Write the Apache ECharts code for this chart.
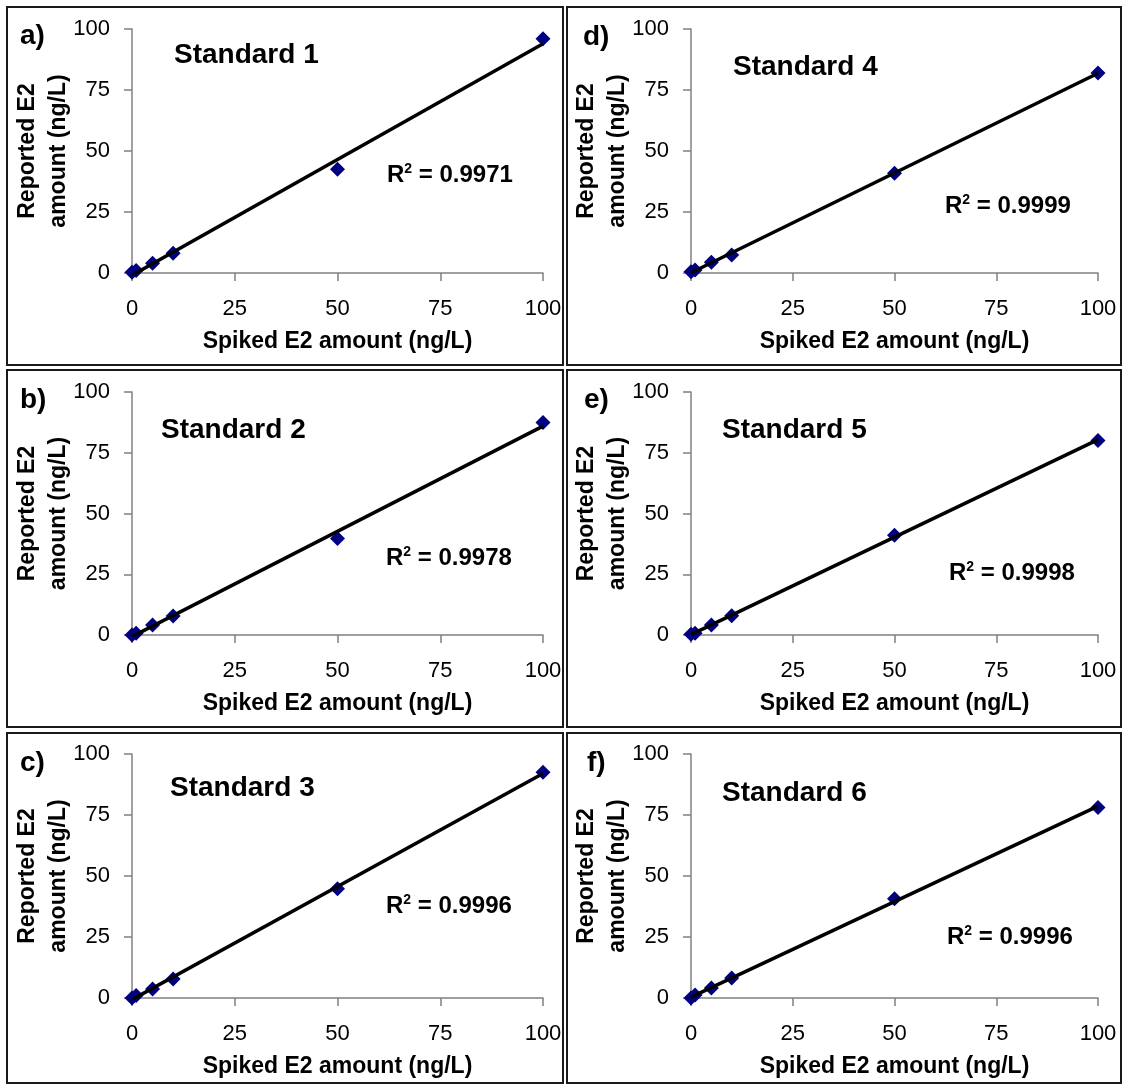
<!DOCTYPE html>
<html>
<head>
<meta charset="utf-8">
<script src="https://cdn.jsdelivr.net/npm/echarts@6/dist/echarts.min.js"></script>
<style>
  html, body { margin: 0; padding: 0; background: #fff; }
  #chart { width: 1125px; height: 1085px; }
</style>
</head>
<body>
<div id="chart"></div>
<script>
// data
const spikedAmount = [0, 1, 5, 10, 50, 100];
const reportedStd1 = [0.3, 1.0, 4.0, 8.1, 42.5, 96.0];
const reportedStd2 = [0.0, 0.7, 4.1, 7.8, 39.7, 87.4];
const reportedStd3 = [0.0, 1.0, 3.7, 7.8, 44.8, 92.5];
const reportedStd4 = [0.5, 1.2, 4.4, 7.4, 40.9, 82.0];
const reportedStd5 = [0.3, 0.7, 4.1, 7.9, 41.1, 80.0];
const reportedStd6 = [0.0, 1.2, 4.1, 8.2, 40.7, 78.1];
const panelLetters = ['a)', 'b)', 'c)', 'd)', 'e)', 'f)'];
const standardNames = ['Standard 1', 'Standard 2', 'Standard 3', 'Standard 4', 'Standard 5', 'Standard 6'];
const r2Values = ['0.9971', '0.9978', '0.9996', '0.9999', '0.9998', '0.9996'];
const axisTicks = [0, 25, 50, 75, 100];
const xAxisTitle = 'Spiked E2 amount (ng/L)';
const yAxisTitle = 'Reported E2\namount (ng/L)';

const reported = [reportedStd1, reportedStd2, reportedStd3, reportedStd4, reportedStd5, reportedStd6];

const FONT = '"Liberation Sans", Arial, sans-serif';

// panel layout: grid [x0,y0,x1,y1], frame, text anchors
const panels = [
    { grid: [132, 29, 543, 273],  box: [7, 7, 563, 365],      letter: [20, 36],   title: [174, 55],  r2: [387, 175] },
    { grid: [132, 392, 543, 635], box: [7, 370, 563, 727],    letter: [20, 400],  title: [161, 430], r2: [386, 558] },
    { grid: [132, 754, 543, 998], box: [7, 733, 563, 1083],   letter: [20, 763],  title: [170, 788], r2: [386, 906] },
    { grid: [691, 29, 1098, 273], box: [567, 7, 1121, 365],   letter: [583, 37],  title: [733, 67],  r2: [945, 206] },
    { grid: [691, 392, 1098, 635], box: [567, 370, 1121, 727], letter: [584, 400], title: [722, 430], r2: [949, 573] },
    { grid: [691, 754, 1098, 998], box: [567, 733, 1121, 1083], letter: [587, 763], title: [722, 793], r2: [947, 937] }
];

// least squares trendline, like the Excel one
function linearFit(xs, ys) {
    const n = xs.length;
    let sx = 0, sy = 0, sxx = 0, sxy = 0;
    for (let i = 0; i < n; i++) {
        sx += xs[i]; sy += ys[i];
        sxx += xs[i] * xs[i]; sxy += xs[i] * ys[i];
    }
    const slope = (n * sxy - sx * sy) / (n * sxx - sx * sx);
    const intercept = (sy - slope * sx) / n;
    return { slope, intercept };
}

const axisMin = axisTicks[0];
const axisMax = axisTicks[axisTicks.length - 1];
const axisStep = axisTicks[1] - axisTicks[0];

const axisLineStyle = { color: '#808080', width: 1.5 };

const grids = [], xAxes = [], yAxes = [], series = [], graphics = [];

panels.forEach((p, i) => {
    const [x0, y0, x1, y1] = p.grid;
    grids.push({ left: x0, top: y0, width: x1 - x0, height: y1 - y0, containLabel: false, outerBoundsMode: 'none' });

    xAxes.push({
        gridIndex: i, type: 'value', min: axisMin, max: axisMax, interval: axisStep,
        name: xAxisTitle, nameLocation: 'middle', nameGap: 57,
        nameTextStyle: { fontFamily: FONT, fontSize: 23, fontWeight: 'bold', color: '#000' },
        axisLine: { lineStyle: axisLineStyle },
        axisTick: { length: 8, lineStyle: axisLineStyle },
        axisLabel: { margin: 25, fontFamily: FONT, fontSize: 22, color: '#000' },
        splitLine: { show: false }
    });
    yAxes.push({
        gridIndex: i, type: 'value', min: axisMin, max: axisMax, interval: axisStep,
        name: yAxisTitle, nameLocation: 'middle', nameGap: 58, nameRotate: 90, nameMoveOverlap: false,
        nameTextStyle: { fontFamily: FONT, fontSize: 23, fontWeight: 'bold', color: '#000', lineHeight: 31 },
        axisLine: { show: true, lineStyle: axisLineStyle },
        axisTick: { show: true, length: 8, lineStyle: axisLineStyle },
        axisLabel: { margin: 22, fontFamily: FONT, fontSize: 22, color: '#000' },
        splitLine: { show: false }
    });

    const ys = reported[i];
    series.push({
        type: 'scatter', xAxisIndex: i, yAxisIndex: i,
        symbol: 'diamond', symbolSize: 15,
        itemStyle: { color: '#000080', opacity: 1 },
        data: spikedAmount.map((x, k) => [x, ys[k]]),
        z: 2
    });
    const fit = linearFit(spikedAmount, ys);
    const xs0 = Math.min(...spikedAmount), xs1 = Math.max(...spikedAmount);
    series.push({
        type: 'line', xAxisIndex: i, yAxisIndex: i,
        showSymbol: false, symbol: 'none',
        lineStyle: { color: '#000', width: 3.5 },
        data: [[xs0, fit.intercept + fit.slope * xs0], [xs1, fit.intercept + fit.slope * xs1]],
        z: 3, silent: true
    });

    const [bx0, by0, bx1, by1] = p.box;
    graphics.push({
        type: 'rect', z: 10,
        shape: { x: bx0, y: by0, width: bx1 - bx0, height: by1 - by0 },
        style: { fill: 'none', stroke: '#1a1a1a', lineWidth: 2 }
    });
    graphics.push({
        type: 'text', x: p.letter[0], y: p.letter[1], z: 10,
        style: { text: panelLetters[i], font: 'bold 28px ' + FONT, fill: '#000', verticalAlign: 'middle' }
    });
    graphics.push({
        type: 'text', x: p.title[0], y: p.title[1], z: 10,
        style: { text: standardNames[i], font: 'bold 28px ' + FONT, fill: '#000', verticalAlign: 'middle' }
    });
    graphics.push({
        type: 'text', x: p.r2[0], y: p.r2[1], z: 10,
        style: {
            text: '{r|R}{s|2}{r| = ' + r2Values[i] + '}',
            verticalAlign: 'middle',
            rich: {
                r: { fontFamily: FONT, fontSize: 24, fontWeight: 'bold', fill: '#000', lineHeight: 26 },
                s: { fontFamily: FONT, fontSize: 14, fontWeight: 'bold', fill: '#000', verticalAlign: 'top', lineHeight: 26, padding: [0, 0, 10, 0] }
            }
        }
    });
});

const chart = echarts.init(document.getElementById('chart'), null, { renderer: 'canvas' });
chart.setOption({
    backgroundColor: '#fff',
    animation: false,
    grid: grids,
    xAxis: xAxes,
    yAxis: yAxes,
    series: series,
    graphic: graphics
});
</script>
</body>
</html>
